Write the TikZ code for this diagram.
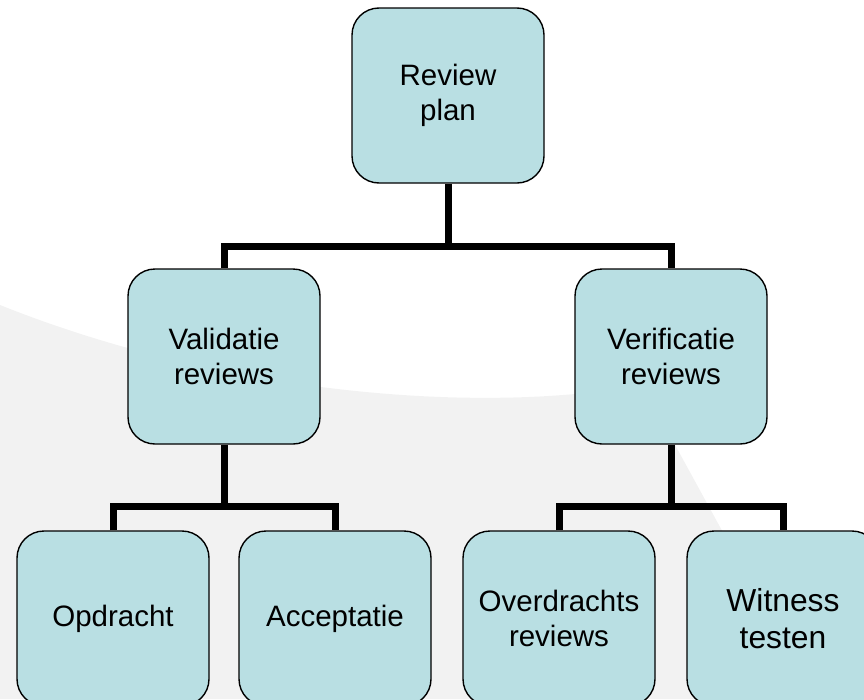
\documentclass[tikz,border=0pt]{standalone}
\usepackage{fontspec}
\setmainfont{Liberation Sans}
\definecolor{boxfill}{HTML}{B9DFE3}
\definecolor{swoosh}{HTML}{F2F2F2}
\begin{document}
\begin{tikzpicture}[x=1pt,y=-1pt,
  box/.style={draw=black, line width=1.4pt, fill=boxfill, rounded corners=27pt,
    minimum width=192pt, minimum height=175pt, inner sep=0pt, align=center,
    font=\fontsize{29.5}{34.5}\selectfont},
  bigbox/.style={box, font=\fontsize{31.8}{37}\selectfont},
  conn/.style={draw=black, line width=7pt, line join=miter, line cap=butt}]
\useasboundingbox (0,0) rectangle (864,699);
\clip (0,0) rectangle (864,699);
% background swoosh
\fill[swoosh] (0,305) .. controls (200,385) and (420,408) .. (575,394)
  .. controls (630,390) and (650,410) .. (668,432)
  -- (720,527) .. controls (760,600) and (790,650) .. (814,699)
  -- (0,699) -- cycle;
% nodes
\node[box] (rp) at (448,95.5) {Review\\plan};
\node[box] (va) at (224,356.5) {Validatie\\reviews};
\node[box] (ve) at (671,356.5) {Verificatie\\reviews};
\node[box] (op) at (113,618.5) {Opdracht};
\node[box] (ac) at (335,618.5) {Acceptatie};
\node[box] (ov) at (559,618.5) {Overdrachts\\reviews};
\node[bigbox] (wi) at (783,618.5) {Witness\\testen};
% bus lines
\coordinate (bus1) at (0,246);
\coordinate (bus2) at (0,506);
\coordinate (bus3) at (0,506);
% connectors
\draw[conn] (va.north) -- (va.north |- bus1) -- (ve.north |- bus1) -- (ve.north);
\draw[conn] (rp.south) -- (rp.south |- bus1);
\draw[conn] (op.north) -- (op.north |- bus2) -- (ac.north |- bus2) -- (ac.north);
\draw[conn] (va.south) -- (va.south |- bus2);
\draw[conn] (ov.north) -- (ov.north |- bus3) -- (wi.north |- bus3) -- (wi.north);
\draw[conn] (ve.south) -- (ve.south |- bus3);
\end{tikzpicture}
\end{document}
